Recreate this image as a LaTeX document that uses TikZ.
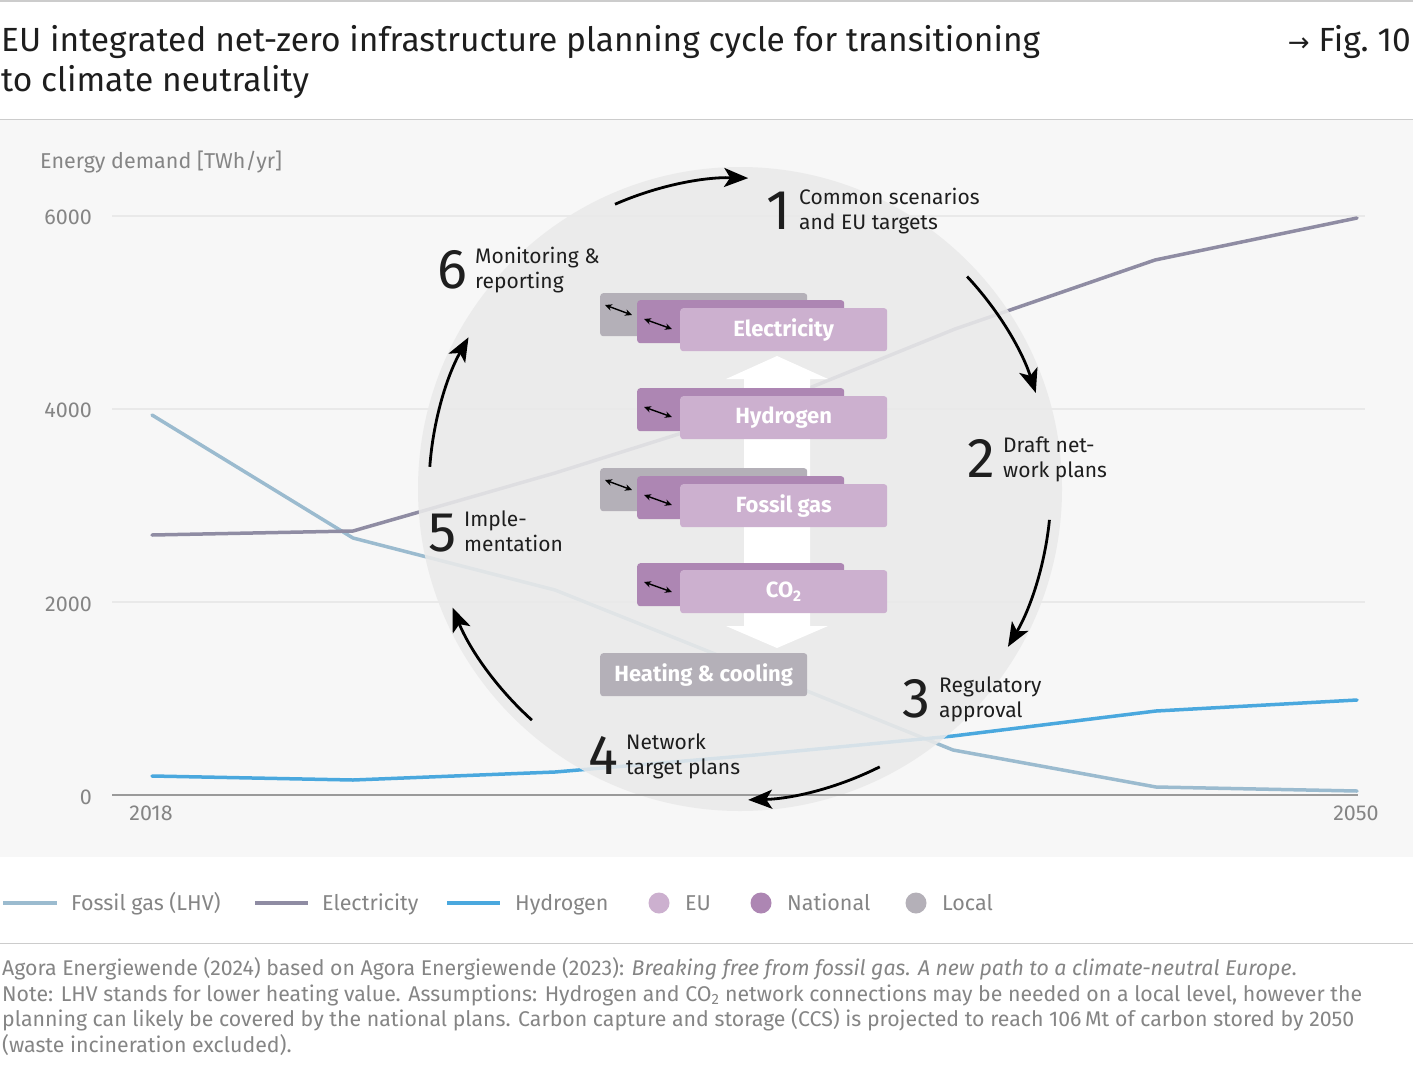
\documentclass[tikz,border=0pt]{standalone}
\usepackage{fontspec}
\setmainfont{Fira Sans}
\newfontfamily\djv{DejaVu Sans}
\usetikzlibrary{arrows.meta,calc}
\definecolor{cGas}{HTML}{9BBBCF}
\definecolor{cEl}{HTML}{8F8CA3}
\definecolor{cHy}{HTML}{4AA8DE}
\definecolor{cBg}{HTML}{F7F7F7}
\definecolor{cGrid}{HTML}{E9E9E9}
\definecolor{cAxis}{HTML}{9A9A9A}
\definecolor{cCirc}{HTML}{EAEAEA}
\definecolor{cRule}{HTML}{CCCCCC}
\definecolor{cTxtG}{HTML}{858585}
\definecolor{cLocal}{HTML}{B4B0B8}
\definecolor{cNat}{HTML}{AD86B3}
\definecolor{cEU}{HTML}{CCB0CF}
\definecolor{cTitle}{HTML}{1E1E1E}
\begin{document}
\begin{tikzpicture}[x=1pt,y=-1pt,
  datal/.style={line width=3.5pt, line join=round, line cap=round},
  steptxt/.style={font=\fontsize{21}{25}\selectfont, align=left, anchor=base west, inner sep=0pt, text=cTitle},
  bignum/.style={font=\fontsize{56}{56}\selectfont, anchor=base east, inner sep=0pt, text=cTitle},
  box/.style={rounded corners=3pt, minimum width=207pt, minimum height=43pt, anchor=north west, inner sep=0pt, font=\bfseries\fontsize{22}{22}\selectfont, text=white},
  locbox/.style={box, fill=cLocal},
  natbox/.style={box, fill=cNat},
  eubox/.style={box, fill=cEU},
  dbl/.style={{Stealth[length=7pt,width=6.5pt]}-{Stealth[length=7pt,width=6.5pt]}, line width=1.4pt},
  cyc/.style={line width=2.8pt, -{Stealth[length=24pt,width=19pt,inset=6pt]}},
  ticklbl/.style={font=\fontsize{21.5}{21.5}\selectfont, text=cTxtG, inner sep=0pt},
  legtxt/.style={font=\fontsize{21.5}{21.5}\selectfont, text=cTxtG, inner sep=0pt, anchor=base west},
]
\useasboundingbox (0,0) rectangle (1413,1071);
\fill[white] (0,0) rectangle (1413,1071);
% rules and chart background
\fill[cBg] (0,120) rectangle (1413,857);
\draw[cRule, line width=1.2pt] (0,1) -- (1413,1);
\draw[cRule, line width=1.2pt] (0,119.5) -- (1413,119.5);
\draw[cRule, line width=1pt] (0,943.5) -- (1413,943.5);

% title
\node[anchor=base west, font=\fontsize{33.5}{40}\selectfont, align=left, inner sep=0pt, text=cTitle] (title) at (1,91)
  {EU integrated net-zero infrastructure planning cycle for transitioning\\to climate neutrality};
\node[anchor=base east, font=\fontsize{33.5}{40}\selectfont, inner sep=0pt, text=cTitle] (fig) at (1411,51)
  {{\djv\fontsize{26}{26}\selectfont →} Fig.\ 10};

% grid
\foreach \yy in {216,409,602} \draw[cGrid, line width=2pt] (112,\yy) -- (1365,\yy);
\node[ticklbl, anchor=base west] (ylab) at (40,168) {Energy demand [TWh/yr]};
\node[ticklbl, anchor=base east] (t6) at (92,224) {6000};
\node[ticklbl, anchor=base east] (t4) at (92,417) {4000};
\node[ticklbl, anchor=base east] (t2) at (92,611) {2000};
\node[ticklbl, anchor=base east] (t0) at (92,804) {0};
\node[ticklbl, anchor=base] (x1) at (151,820) {2018};
\node[ticklbl, anchor=base] (x2) at (1356,820) {2050};

% data lines
\draw[datal, cGas] (152,415) -- (353,538) -- (555,590) -- (755,670) -- (953,750) -- (1156,787) -- (1357,791);
\draw[datal, cEl] (152,535) -- (353,531) -- (555,473) -- (755,410) -- (955,329) -- (1155,260) -- (1357,218);
\draw[datal, cHy] (152,776) -- (353,780) -- (555,772) -- (755,755) -- (953,736) -- (1156,711) -- (1357,700);

% circle
\fill[cCirc, opacity=0.88] (740,489) circle[radius=322];
\draw[cAxis, line width=1.6pt] (112,795) -- (1358,795);

% white double arrow
\fill[white] (777,356) -- (828,379) -- (810,379) -- (810,626) -- (828,626) -- (777,648)
  -- (726,626) -- (744,626) -- (744,379) -- (726,379) -- cycle;

% boxes
\node[locbox] (l1) at (600,293) {};
\node[natbox] (n1) at (637,300) {};
\node[eubox] (e1) at (680,308) {Electricity};
\node[natbox] (n2) at (637,388) {};
\node[eubox] (e2) at (680,396) {Hydrogen};
\node[locbox] (l3) at (600,468) {};
\node[natbox] (n3) at (637,476) {};
\node[eubox] (e3) at (680,484) {Fossil gas};
\node[natbox] (n4) at (637,563) {};
\node[eubox] (e4) at (680,570) {CO\textsubscript{2}};
\node[locbox] (l5) at (600,653) {Heating \& cooling};

\foreach \b in {l1,l3} \draw[dbl] ([shift={(5,12)}]\b.north west) -- ([shift={(32,22)}]\b.north west);
\foreach \b in {n1,n2,n3,n4} \draw[dbl] ([shift={(7,19)}]\b.north west) -- ([shift={(35,29)}]\b.north west);

% steps
\node[bignum] (s1n) at (791,229) {1};
\node[steptxt] (s1) at (799,229) {Common scenarios\\and EU targets};
\node[bignum] (s2n) at (995,477) {2};
\node[steptxt] (s2) at (1003,477) {Draft net-\\work plans};
\node[bignum] (s3n) at (931,717) {3};
\node[steptxt] (s3) at (939,717) {Regulatory\\approval};
\node[bignum] (s4n) at (618,774) {4};
\node[steptxt] (s4) at (626,774) {Network\\target plans};
\node[bignum] (s5n) at (457,551) {5};
\node[steptxt] (s5) at (464,551) {Imple-\\mentation};
\node[bignum] (s6n) at (468,288) {6};
\node[steptxt] (s6) at (475,288) {Monitoring \&\\reporting};

% cycle arrows
\coordinate (cc) at (740,489);
\coordinate (a1) at ($(cc)+(-113.7:311)$);
\coordinate (a2) at ($(cc)+(-43.1:311)$);
\coordinate (a3) at ($(cc)+(5.7:311)$);
\coordinate (a4) at ($(cc)+(63.3:311)$);
\coordinate (a5) at ($(cc)+(132:311)$);
\coordinate (a6) at ($(cc)+(-175.9:311)$);
\draw[cyc] (a1) arc[start angle=-113.7, end angle=-88.5, radius=311];
\draw[cyc] (a2) arc[start angle=-43.1, end angle=-18, radius=311];
\draw[cyc] (a3) arc[start angle=5.7, end angle=30.5, radius=311];
\draw[cyc] (a4) arc[start angle=63.3, end angle=88.5, radius=311];
\draw[cyc] (a5) arc[start angle=132, end angle=157.6, radius=311];
\draw[cyc] (a6) arc[start angle=-175.9, end angle=-150.8, radius=311];

% legend
\draw[cGas, line width=3.5pt] (3,903) -- (57,903);
\node[legtxt] (lg1) at (71,910) {Fossil gas (LHV)};
\draw[cEl, line width=3.5pt] (255,903) -- (308,903);
\node[legtxt] (lg2) at (322,910) {Electricity};
\draw[cHy, line width=3.5pt] (447,903) -- (500,903);
\node[legtxt] (lg3) at (515,910) {Hydrogen};
\fill[cEU] (659,903) circle[radius=10.5];
\node[legtxt] (lg4) at (685,910) {EU};
\fill[cNat] (761,903) circle[radius=10.5];
\node[legtxt] (lg5) at (787,910) {National};
\fill[cLocal] (916,903) circle[radius=10.5];
\node[legtxt] (lg6) at (942,910) {Local};

% footer
\node[anchor=base west, align=left, inner sep=0pt, text=cTxtG, font=\fontsize{21.3}{25.5}\selectfont] (foot) at (2,1052)
 {Agora Energiewende (2024) based on Agora Energiewende (2023): \textit{Breaking free from fossil gas. A new path to a climate-neutral Europe}.\\
 Note: LHV stands for lower heating value. Assumptions: Hydrogen and CO\textsubscript{2} network connections may be needed on a local level, however the\\
 planning can likely be covered by the national plans. Carbon capture and storage (CCS) is projected to reach 106\,Mt of carbon stored by 2050\\
 (waste incineration excluded).};
\end{tikzpicture}
\end{document}
